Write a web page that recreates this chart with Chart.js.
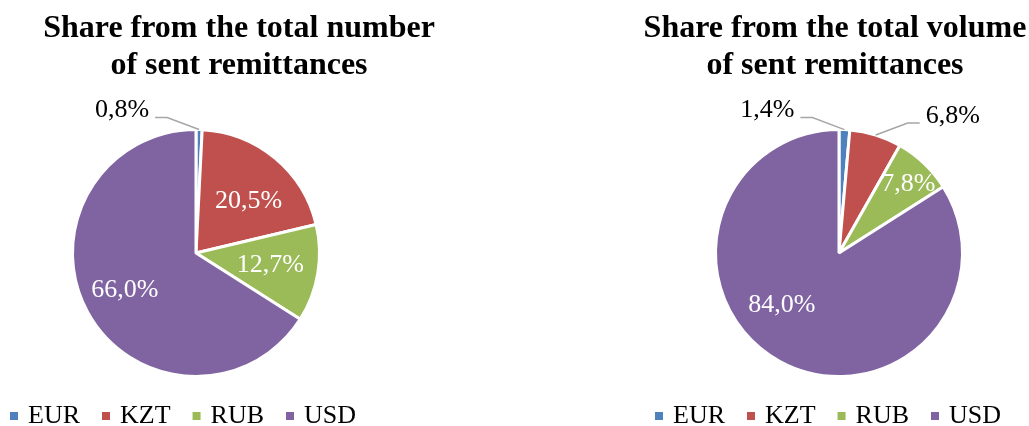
<!DOCTYPE html>
<html>
<head>
<meta charset="utf-8">
<script src="https://cdn.jsdelivr.net/npm/chart.js@4/dist/chart.umd.min.js"></script>
<style>
  html, body { margin: 0; padding: 0; background: #fff; overflow: hidden; }
  .box { position: absolute; top: 0; height: 426px; }
  #leftBox { left: 0; width: 480px; }
  #rightBox { left: 600px; width: 429px; }
</style>
</head>
<body>
<div class="box" id="leftBox"><canvas id="countChart"></canvas></div>
<div class="box" id="rightBox"><canvas id="volumeChart"></canvas></div>
<script>
// Currency shares of remittances (%)
const currencies = ['EUR', 'KZT', 'RUB', 'USD'];
const countShare = [0.8, 20.5, 12.7, 66.0];
const volumeShare = [1.4, 6.8, 7.8, 84.0];
const sliceColors = ['#4F81BD', '#C0504D', '#9BBB59', '#8064A2'];

const serif = '"Liberation Serif", "Times New Roman", serif';

// two-line bold title, centred on a given x
const pieTitle = {
  id: 'pieTitle',
  afterDraw(chart, args, opts) {
    const ctx = chart.ctx;
    ctx.save();
    ctx.font = 'bold 32px ' + serif;
    ctx.fillStyle = '#000';
    ctx.textAlign = 'center';
    ctx.textBaseline = 'middle';
    opts.lines.forEach((t, i) => ctx.fillText(t, opts.x, 29 + i * 37));
    ctx.restore();
  }
};

// legend row with small squares
const pieLegend = {
  id: 'pieLegend',
  afterDraw(chart, args, opts) {
    const ctx = chart.ctx;
    ctx.save();
    ctx.font = '26px ' + serif;
    ctx.textBaseline = 'alphabetic';
    ctx.textAlign = 'left';
    let x = opts.x;
    chart.data.labels.forEach((lab, i) => {
      ctx.fillStyle = chart.data.datasets[0].backgroundColor[i];
      ctx.fillRect(x, 412, 8, 8);
      x += 18;
      ctx.fillStyle = '#000';
      ctx.fillText(lab, x, 423);
      x += ctx.measureText(lab).width + 22;
    });
    ctx.restore();
  }
};

// percentage labels, inside or with a leader line outside
const sliceLabels = {
  id: 'sliceLabels',
  afterDatasetsDraw(chart, args, opts) {
    const ctx = chart.ctx;
    const meta = chart.getDatasetMeta(0);
    const values = chart.data.datasets[0].data;
    ctx.save();
    ctx.font = '26px ' + serif;
    ctx.textBaseline = 'middle';
    meta.data.forEach((arc, i) => {
      const p = arc.getProps(['x', 'y', 'startAngle', 'endAngle', 'outerRadius'], true);
      const mid = (p.startAngle + p.endAngle) / 2;
      const text = values[i].toFixed(1).replace('.', ',') + '%';
      if (values[i] >= 7) {
        const pos = opts.inside[i];
        const a = mid + pos[1] * Math.PI / 180;
        const r = p.outerRadius * pos[0];
        ctx.fillStyle = '#fff';
        ctx.textAlign = 'center';
        ctx.fillText(text, p.x + Math.cos(a) * r, p.y + Math.sin(a) * r);
      } else {
        const ax = p.x + Math.cos(mid) * p.outerRadius;
        const ay = p.y + Math.sin(mid) * p.outerRadius;
        const side = (mid + Math.PI / 2) < 0.07 ? -1 : 1;
        const ex = ax + side * 32, ey = ay - 12;
        const lx = ex + side * 12;
        ctx.strokeStyle = '#a6a6a6';
        ctx.lineWidth = 1.5;
        ctx.beginPath();
        ctx.moveTo(ax, ay);
        ctx.lineTo(ex, ey);
        ctx.lineTo(lx, ey);
        ctx.stroke();
        ctx.fillStyle = '#000';
        ctx.textAlign = side < 0 ? 'right' : 'left';
        ctx.fillText(text, lx + side * 6, ey - 7);
      }
    });
    ctx.restore();
  }
};

function makePie(id, title, values, inside, pad, titleX, legendX) {
  return new Chart(document.getElementById(id), {
    type: 'pie',
    data: {
      labels: currencies,
      datasets: [{
        data: values,
        backgroundColor: sliceColors,
        borderColor: '#fff',
        borderWidth: 3
      }]
    },
    options: {
      responsive: true,
      maintainAspectRatio: false,
      animation: false,
      layout: { padding: pad },
      plugins: {
        title: { display: false },
        legend: { display: false },
        tooltip: { enabled: false },
        sliceLabels: { inside: inside },
        pieTitle: { lines: title, x: titleX },
        pieLegend: { x: legendX }
      }
    },
    plugins: [sliceLabels, pieTitle, pieLegend]
  });
}

makePie('countChart', ['Share from the total number', 'of sent remittances'], countShare,
  [null, [0.60, 5.5], [0.61, -0.4], [0.65, 1.4]],
  { left: 71, right: 159, top: 128, bottom: 48 }, 239, 10);
makePie('volumeChart', ['Share from the total volume', 'of sent remittances'], volumeShare,
  [null, null, [0.79, 1.8], [0.625, 19.1]],
  { left: 114, right: 65, top: 128, bottom: 48 }, 235, 55);
</script>
</body>
</html>
